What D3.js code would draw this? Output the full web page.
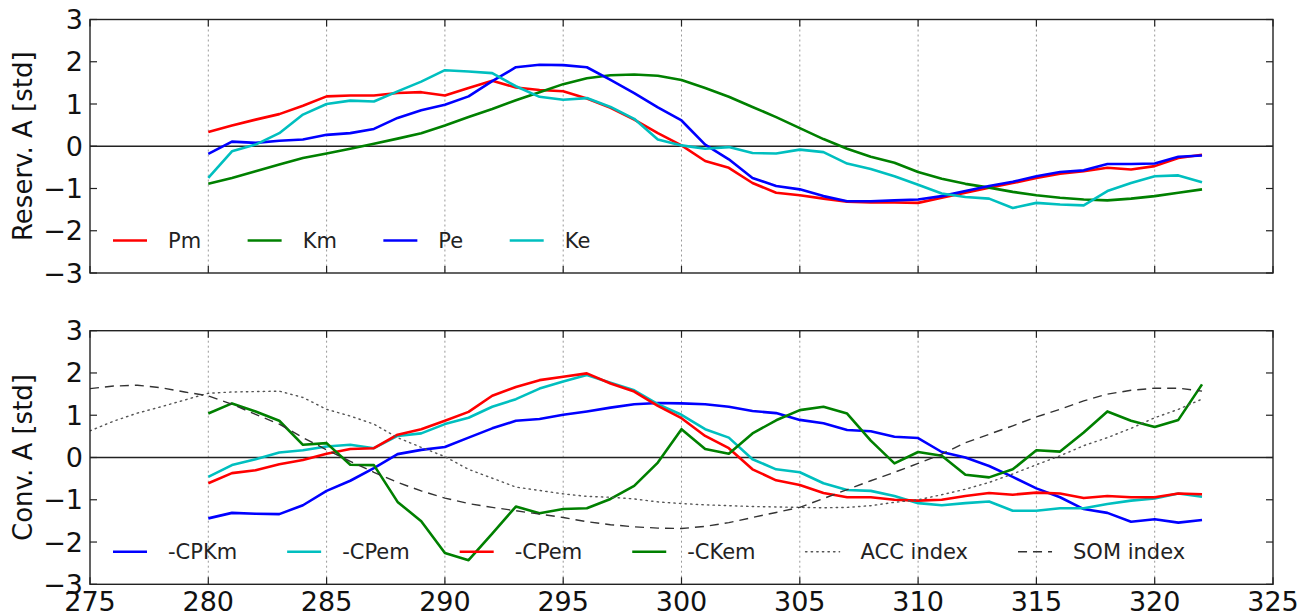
<!DOCTYPE html>
<html><head><meta charset="utf-8">
<script src="https://cdn.jsdelivr.net/npm/d3@7/dist/d3.min.js"></script>
<style>body{margin:0;background:#fff}svg{display:block}</style>
</head><body>
<svg id="chart" width="1309" height="615"></svg>
<script>
// ---------- data ----------
const years = [280,281,282,283,284,285,286,287,288,289,290,291,292,293,294,295,296,297,298,299,300,301,302,303,304,305,306,307,308,309,310,311,312,313,314,315,316,317,318,319,320,321,322];
const indexYears = [275,276,277,278,279,280,281,282,283,284,285,286,287,288,289,290,291,292,293,294,295,296,297,298,299,300,301,302,303,304,305,306,307,308,309,310,311,312,313,314,315,316,317,318,319,320,321,322];
const xTicks = [275,280,285,290,295,300,305,310,315,320,325];
const yTicks = [-3,-2,-1,0,1,2,3];

// top panel: reservoirs
const Pm = [0.34,0.49,0.63,0.76,0.96,1.18,1.2,1.2,1.26,1.28,1.2,1.38,1.55,1.39,1.33,1.3,1.13,0.91,0.63,0.31,0.02,-0.35,-0.51,-0.87,-1.1,-1.16,-1.24,-1.31,-1.33,-1.33,-1.34,-1.22,-1.1,-0.98,-0.87,-0.75,-0.65,-0.59,-0.51,-0.55,-0.47,-0.28,-0.2];
const Km = [-0.89,-0.75,-0.59,-0.43,-0.28,-0.17,-0.06,0.06,0.18,0.31,0.49,0.69,0.88,1.09,1.28,1.47,1.61,1.68,1.7,1.67,1.57,1.38,1.17,0.93,0.69,0.43,0.17,-0.06,-0.25,-0.39,-0.61,-0.77,-0.89,-0.98,-1.08,-1.16,-1.22,-1.26,-1.28,-1.24,-1.18,-1.1,-1.02];
const Pe = [-0.18,0.11,0.08,0.13,0.16,0.27,0.31,0.41,0.67,0.85,0.98,1.18,1.54,1.87,1.93,1.92,1.87,1.57,1.26,0.92,0.61,0.04,-0.31,-0.75,-0.94,-1.02,-1.18,-1.3,-1.3,-1.28,-1.26,-1.18,-1.06,-0.94,-0.84,-0.71,-0.61,-0.57,-0.42,-0.42,-0.41,-0.25,-0.22];
const Ke = [-0.75,-0.12,0.04,0.31,0.75,1.0,1.08,1.06,1.3,1.53,1.8,1.77,1.73,1.42,1.17,1.1,1.14,0.93,0.65,0.16,0.02,-0.06,-0.02,-0.16,-0.17,-0.08,-0.14,-0.41,-0.54,-0.71,-0.91,-1.12,-1.2,-1.24,-1.46,-1.34,-1.38,-1.4,-1.06,-0.87,-0.71,-0.69,-0.85];

// bottom panel: conversions
const CPKm = [-1.44,-1.31,-1.33,-1.34,-1.13,-0.79,-0.55,-0.25,0.08,0.18,0.25,0.47,0.69,0.87,0.91,1.01,1.09,1.18,1.26,1.29,1.28,1.26,1.2,1.1,1.05,0.89,0.81,0.65,0.62,0.49,0.46,0.13,0.0,-0.2,-0.46,-0.73,-0.94,-1.22,-1.31,-1.52,-1.46,-1.54,-1.48];
const CPem1 = [-0.46,-0.18,-0.04,0.12,0.17,0.26,0.3,0.22,0.51,0.57,0.79,0.94,1.2,1.38,1.63,1.8,1.95,1.77,1.59,1.26,1.01,0.67,0.47,-0.04,-0.28,-0.35,-0.61,-0.77,-0.79,-0.91,-1.08,-1.13,-1.08,-1.04,-1.26,-1.26,-1.2,-1.2,-1.1,-1.02,-0.97,-0.85,-0.93];
const CPem2 = [-0.61,-0.37,-0.3,-0.16,-0.06,0.09,0.2,0.22,0.54,0.67,0.87,1.08,1.46,1.67,1.83,1.91,1.99,1.75,1.56,1.22,0.93,0.51,0.22,-0.28,-0.54,-0.65,-0.84,-0.94,-0.94,-1.0,-1.02,-1.0,-0.91,-0.84,-0.88,-0.83,-0.85,-0.96,-0.91,-0.94,-0.94,-0.85,-0.87];
const CKem = [1.04,1.28,1.09,0.87,0.3,0.34,-0.17,-0.18,-1.05,-1.51,-2.26,-2.43,-1.8,-1.16,-1.32,-1.22,-1.2,-0.98,-0.67,-0.12,0.67,0.2,0.09,0.57,0.88,1.12,1.2,1.04,0.4,-0.14,0.13,0.04,-0.41,-0.47,-0.28,0.17,0.14,0.59,1.09,0.87,0.72,0.89,1.73];
const ACC = [0.63,0.86,1.05,1.2,1.36,1.52,1.55,1.56,1.57,1.42,1.14,0.98,0.79,0.47,0.24,0.02,-0.28,-0.49,-0.7,-0.78,-0.86,-0.92,-0.94,-0.98,-1.05,-1.09,-1.12,-1.14,-1.16,-1.17,-1.18,-1.19,-1.18,-1.14,-1.06,-1.0,-0.88,-0.75,-0.59,-0.39,-0.17,0.04,0.28,0.47,0.69,0.94,1.14,1.38];
const SOM = [1.63,1.69,1.71,1.65,1.55,1.46,1.26,1.02,0.79,0.47,0.18,-0.09,-0.35,-0.59,-0.79,-0.96,-1.09,-1.18,-1.26,-1.34,-1.42,-1.52,-1.59,-1.64,-1.67,-1.68,-1.63,-1.54,-1.42,-1.3,-1.18,-0.97,-0.76,-0.55,-0.35,-0.14,0.08,0.35,0.55,0.75,0.96,1.14,1.34,1.5,1.59,1.64,1.64,1.57];

// ---------- drawing ----------
const svg = d3.select("#chart");
const FONT = "DejaVu Sans, sans-serif";
const L = 90, R = 1273;
const x = d3.scaleLinear().domain([275, 325]).range([L, R]);

const panels = [
  {top: 19.5, bottom: 273, label: "Reserv. A [std]", xlabels: false, gap: 46.5,
   series: [
     {name: "Pm", xs: years, ys: Pm, color: "#ff0000", w: 2.6},
     {name: "Km", xs: years, ys: Km, color: "#008000", w: 2.6},
     {name: "Pe", xs: years, ys: Pe, color: "#0000ff", w: 2.6},
     {name: "Ke", xs: years, ys: Ke, color: "#00bfbf", w: 2.6}
   ]},
  {top: 330.7, bottom: 584.3, label: "Conv. A [std]", xlabels: true, gap: 50,
   series: [
     {name: "-CPKm", xs: years, ys: CPKm, color: "#0000ff", w: 2.6},
     {name: "-CPem", xs: years, ys: CPem1, color: "#00bfbf", w: 2.6},
     {name: "-CPem", xs: years, ys: CPem2, color: "#ff0000", w: 2.6},
     {name: "-CKem", xs: years, ys: CKem, color: "#008000", w: 2.6},
     {name: "ACC index", xs: indexYears, ys: ACC, color: "#555", w: 1.4, dash: "1.4,4.2", cap: "round"},
     {name: "SOM index", xs: indexYears, ys: SOM, color: "#333", w: 1.4, dash: "9,6"}
   ]}
];

panels.forEach(p => {
  const y = d3.scaleLinear().domain([-3, 3]).range([p.bottom, p.top]);
  const g = svg.append("g");

  // grid (vertical dotted)
  g.append("g").selectAll("line").data(xTicks.filter(t => t > 275 && t < 325)).join("line")
    .attr("x1", d => x(d)).attr("x2", d => x(d))
    .attr("y1", p.top).attr("y2", p.bottom)
    .attr("stroke", "#999").attr("stroke-width", 1).attr("stroke-dasharray", "2,3");

  // zero line
  g.append("line").attr("x1", L).attr("x2", R).attr("y1", y(0)).attr("y2", y(0))
    .attr("stroke", "#222").attr("stroke-width", 1.4);

  // series
  const clipId = "clip" + Math.round(p.top);
  svg.append("clipPath").attr("id", clipId).append("rect")
    .attr("x", L).attr("y", p.top).attr("width", R - L).attr("height", p.bottom - p.top);
  p.series.forEach(s => {
    const line = d3.line().x((d, i) => x(s.xs[i])).y(d => y(d));
    g.append("path").datum(s.ys)
      .attr("clip-path", `url(#${clipId})`)
      .attr("d", line).attr("fill", "none")
      .attr("stroke", s.color).attr("stroke-width", s.w)
      .attr("stroke-linejoin", "round")
      .attr("stroke-linecap", s.cap || "butt")
      .attr("stroke-dasharray", s.dash || null);
  });

  // frame
  g.append("rect").attr("x", L).attr("y", p.top).attr("width", R - L).attr("height", p.bottom - p.top)
    .attr("fill", "none").attr("stroke", "#222").attr("stroke-width", 1.4);

  // inward ticks
  const tk = 7;
  const tg = g.append("g").attr("stroke", "#222").attr("stroke-width", 1.2);
  xTicks.forEach(t => {
    tg.append("line").attr("x1", x(t)).attr("x2", x(t)).attr("y1", p.bottom).attr("y2", p.bottom - tk);
    tg.append("line").attr("x1", x(t)).attr("x2", x(t)).attr("y1", p.top).attr("y2", p.top + tk);
  });
  yTicks.forEach(t => {
    tg.append("line").attr("x1", L).attr("x2", L + tk).attr("y1", y(t)).attr("y2", y(t));
    tg.append("line").attr("x1", R).attr("x2", R - tk).attr("y1", y(t)).attr("y2", y(t));
  });

  // y tick labels
  g.append("g").selectAll("text").data(yTicks).join("text")
    .attr("x", L - 7).attr("y", d => y(d))
    .attr("text-anchor", "end").attr("dominant-baseline", "central")
    .attr("font-family", FONT).attr("font-size", 27).attr("fill", "#111")
    .text(d => d < 0 ? "\u2212" + Math.abs(d) : d);

  // x tick labels
  if (p.xlabels) {
    g.append("g").selectAll("text").data(xTicks).join("text")
      .attr("x", d => x(d)).attr("y", p.bottom + 27)
      .attr("text-anchor", "middle")
      .attr("font-family", FONT).attr("font-size", 27).attr("fill", "#111")
      .text(d => d);
  }

  // y label
  g.append("text")
    .attr("transform", `translate(32,${(p.top + p.bottom) / 2}) rotate(-90)`)
    .attr("text-anchor", "middle")
    .attr("font-family", FONT).attr("font-size", 26).attr("fill", "#111")
    .text(p.label);

  // legend (single row, no frame)
  const ly = p.bottom - 32.5;
  let lx = 113;
  const handle = 34, pad = 21;
  p.series.forEach(s => {
    g.append("line").attr("x1", lx).attr("x2", lx + handle).attr("y1", ly).attr("y2", ly)
      .attr("stroke", s.color).attr("stroke-width", s.w)
      .attr("stroke-linecap", s.cap || "butt")
      .attr("stroke-dasharray", s.dash || null);
    const t = g.append("text").attr("x", lx + handle + pad).attr("y", ly)
      .attr("dominant-baseline", "central")
      .attr("font-family", FONT).attr("font-size", 21).attr("fill", "#222")
      .text(s.name);
    lx += handle + pad + t.node().getComputedTextLength() + p.gap;
  });
});
</script>
</body></html>
